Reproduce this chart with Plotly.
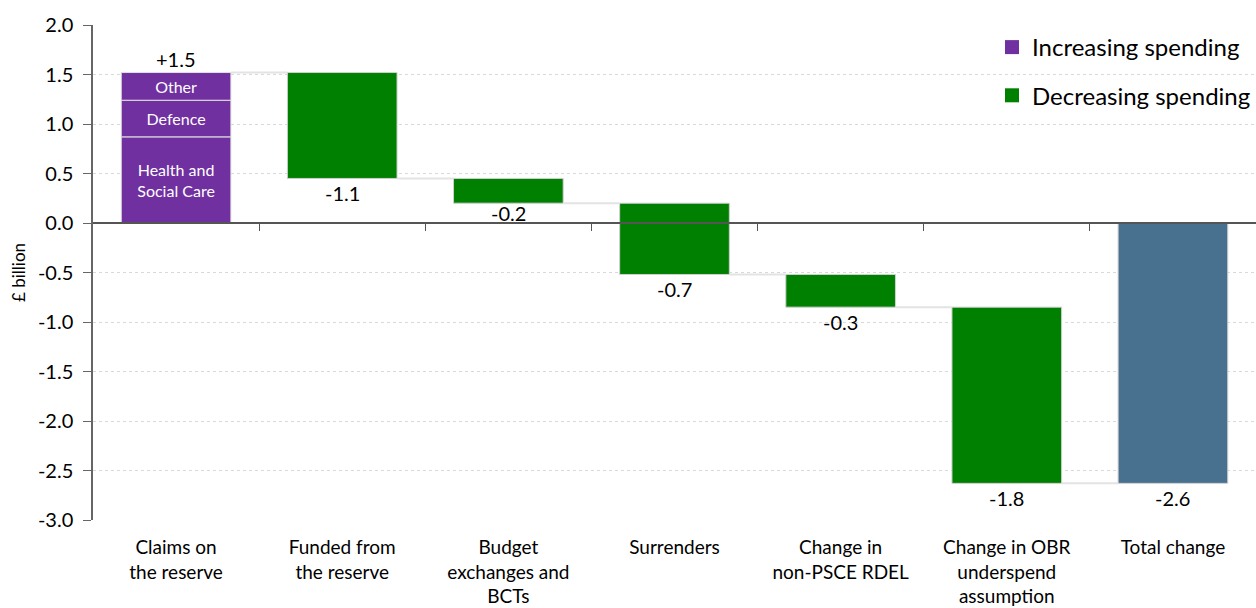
import plotly.graph_objects as go

# Categories along the x axis
categories = [
    "Claims on<br>the reserve",
    "Funded from<br>the reserve",
    "Budget<br>exchanges and<br>BCTs",
    "Surrenders",
    "Change in<br>non-PSCE RDEL",
    "Change in OBR<br>underspend<br>assumption",
    "Total change",
]

# Components of the claims on the reserve (£ billion), stacked bottom to top
claim_parts = ["Health and<br>Social Care", "Defence", "Other"]
claim_values = [0.87, 0.37, 0.28]

# Changes after the claims (£ billion)
decrease_values = [-1.07, -0.25, -0.72, -0.33, -1.78]

y_ticks = [2.0, 1.5, 1.0, 0.5, 0.0, -0.5, -1.0, -1.5, -2.0, -2.5, -3.0]

PURPLE = "#7030A0"
GREEN = "#008000"
TOTAL = "#47718F"
OUTLINE = "#D0D0D0"
FONT = "Lato"
BAR_W = 0.66


def fmt(v, signed=False):
    s = f"{abs(v):.1f}"
    if v < 0:
        return "-" + s
    return ("+" + s) if signed else s


xs = list(range(len(categories)))
fig = go.Figure()

# Stacked claims bar
base = 0.0
for name, v in zip(claim_parts, claim_values):
    fig.add_trace(go.Bar(
        x=[xs[0]], y=[v], base=[base], width=BAR_W,
        marker=dict(color=PURPLE, line=dict(color="#E0E0E0", width=1)),
        text=[name], textposition="inside", insidetextanchor="middle",
        textfont=dict(color="white", size=16, family=FONT),
        hoverinfo="skip", showlegend=False,
    ))
    base += v
claims_total = base

# Decreasing steps, each starting where the previous one ended
levels = [claims_total]
for v in decrease_values:
    levels.append(levels[-1] + v)

fig.add_trace(go.Bar(
    x=xs[1:6], y=decrease_values, base=levels[:-1], width=BAR_W,
    marker=dict(color=GREEN, line=dict(color=OUTLINE, width=1)),
    hoverinfo="skip", showlegend=False,
))

total_change = levels[-1]
fig.add_trace(go.Bar(
    x=[xs[6]], y=[total_change], base=[0], width=BAR_W,
    marker=dict(color=TOTAL, line=dict(color=OUTLINE, width=1)),
    hoverinfo="skip", showlegend=False,
))

# Connector lines between consecutive bars
for i, lvl in enumerate(levels):
    fig.add_trace(go.Scatter(
        x=[xs[i] + BAR_W / 2, xs[i + 1] - BAR_W / 2], y=[lvl, lvl],
        mode="lines", line=dict(color="#E3E3E3", width=2),
        hoverinfo="skip", showlegend=False,
    ))

# Value labels (the one sitting just above the zero line is nudged up)
label_font = dict(size=20, family=FONT, color="black")
fig.add_annotation(x=xs[0], y=claims_total, text=fmt(claims_total, signed=True),
                   showarrow=False, yanchor="bottom", yshift=0, font=label_font)
for i, v in enumerate(decrease_values):
    near_axis = 0 < levels[i + 1] < 0.3
    fig.add_annotation(x=xs[i + 1], y=levels[i + 1], text=fmt(v),
                       showarrow=False, yanchor="top", yshift=4 if near_axis else -1,
                       font=label_font)
fig.add_annotation(x=xs[6], y=total_change, text=fmt(total_change),
                   showarrow=False, yanchor="top", yshift=-1, font=label_font)

# Legend entries
fig.add_trace(go.Scatter(x=[None], y=[None], mode="markers", name="Increasing spending",
                         marker=dict(symbol="square", size=14, color=PURPLE),
                         legendgroup="inc"))
fig.add_trace(go.Scatter(x=[None], y=[None], mode="markers", name="Decreasing spending",
                         marker=dict(symbol="square", size=14, color=GREEN),
                         legendgroup="dec"))

# Invisible trace so the axis at zero gets drawn
fig.add_trace(go.Scatter(x=[xs[0]], y=[0], xaxis="x2", mode="markers",
                         marker=dict(opacity=0), hoverinfo="skip", showlegend=False))

fig.update_layout(
    width=1256, height=608,
    margin=dict(l=93, r=0, t=25, b=88),
    paper_bgcolor="white", plot_bgcolor="white",
    font=dict(family=FONT, color="black"),
    barmode="overlay",
    showlegend=True,
    legend=dict(x=1, xanchor="right", y=1.0, yanchor="top",
                font=dict(size=24, family=FONT),
                traceorder="grouped", tracegroupgap=14,
                bgcolor="rgba(0,0,0,0)", itemwidth=30),
    xaxis=dict(
        range=[-0.5, len(categories) - 0.5],
        tickvals=xs, ticktext=categories,
        showline=False, ticks="", showgrid=False, zeroline=False,
        tickfont=dict(size=19, family=FONT),
        ticklabelstandoff=14,
        automargin=False,
    ),
    xaxis2=dict(
        overlaying="x", anchor="free", position=0.6,
        range=[-0.5, len(categories) - 0.5],
        tickvals=[i + 0.5 for i in xs[:-1]],
        showticklabels=False, ticks="outside", ticklen=7, tickcolor="#555555",
        showline=True, linecolor="#555555", linewidth=1.5,
        showgrid=False, zeroline=False,
    ),
    yaxis=dict(
        range=[-3.0, 2.0],
        tickvals=y_ticks, ticktext=[f"{t:.1f}" for t in y_ticks],
        showgrid=True, gridcolor="#D9D9D9", griddash="dot", gridwidth=1,
        zeroline=False,
        showline=True, linecolor="#666666", linewidth=1.5,
        ticks="outside", ticklen=8, tickcolor="#666666",
        tickfont=dict(size=20, family=FONT),
        ticklabelstandoff=6,
        automargin=False,
        title=dict(text="£ billion", font=dict(size=17, family=FONT), standoff=8),
    ),
)

fig.write_html("out.html")
